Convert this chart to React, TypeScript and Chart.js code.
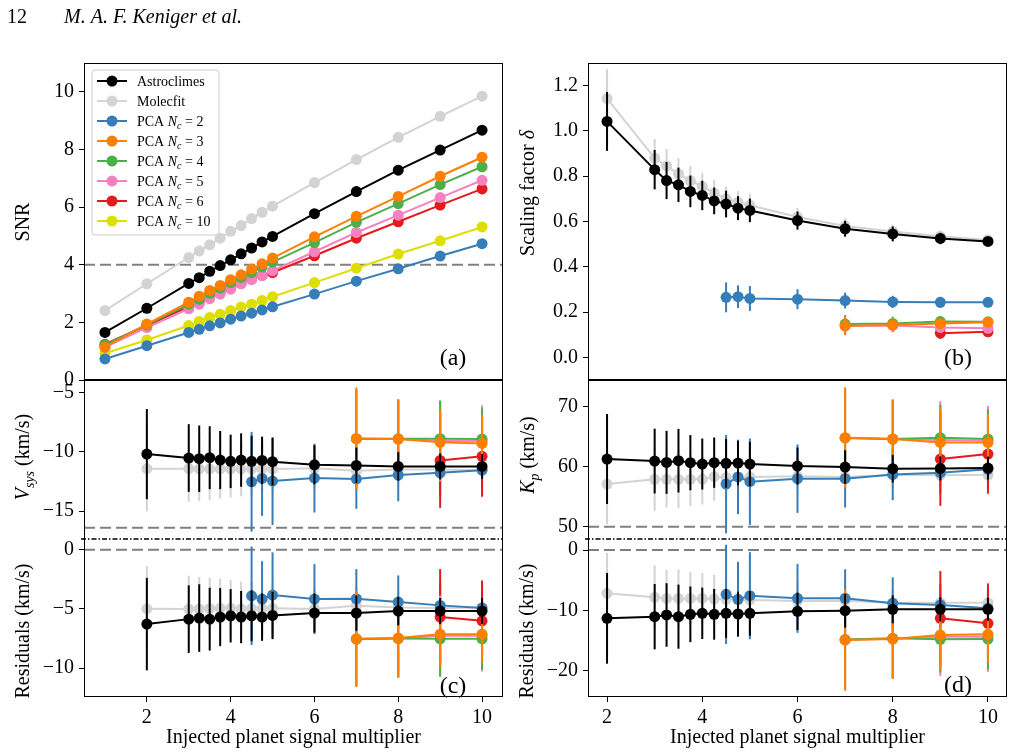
import React, { useEffect, useRef } from "react";
import { Chart, registerables } from "chart.js";
Chart.register(...registerables);

const FONT = "'Liberation Serif', 'DejaVu Serif', 'Times New Roman', serif";
const W = 1014;
const H = 755;

// ---------- colours ----------
const C_BLACK = "#000000";
const C_GRAY = "#d3d3d3";
const C_BLUE = "#377eb8";
const C_ORANGE = "#ff7f00";
const C_GREEN = "#4daf4a";
const C_PINK = "#f781bf";
const C_RED = "#e41a1c";
const C_YELLOW = "#dede00";

// ---------- legend ----------
const legendNames = ["Astroclimes", "Molecfit"];
const legendNc = [2, 3, 4, 5, 6, 10];

// ---------- panel (a): SNR ----------
const xSNR = [1, 2, 3, 3.25, 3.5, 3.75, 4, 4.25, 4.5, 4.75, 5, 6, 7, 8, 9, 10];
const snrAstro = [1.65, 2.49, 3.35, 3.55, 3.77, 3.97, 4.17, 4.38, 4.58, 4.79, 4.98, 5.77, 6.54, 7.28, 7.98, 8.67];
const snrMolec = [2.41, 3.34, 4.25, 4.48, 4.69, 4.92, 5.16, 5.36, 5.6, 5.82, 6.03, 6.85, 7.65, 8.42, 9.15, 9.85];
const snrPCA2 = [0.73, 1.19, 1.65, 1.76, 1.88, 1.98, 2.11, 2.22, 2.32, 2.43, 2.54, 2.98, 3.43, 3.86, 4.3, 4.73];
const snrPCA3 = [1.14, 1.94, 2.7, 2.91, 3.11, 3.28, 3.48, 3.65, 3.85, 4.03, 4.23, 4.97, 5.68, 6.37, 7.07, 7.73];
const snrPCA4 = [1.22, 1.91, 2.63, 2.8, 3.01, 3.19, 3.38, 3.56, 3.73, 3.92, 4.09, 4.77, 5.47, 6.12, 6.78, 7.4];
const snrPCA5 = [1.14, 1.82, 2.47, 2.63, 2.82, 2.98, 3.15, 3.34, 3.48, 3.62, 3.79, 4.45, 5.12, 5.72, 6.33, 6.93];
const snrPCA6 = [1.24, 1.89, 2.55, 2.72, 2.89, 3.05, 3.21, 3.37, 3.51, 3.63, 3.73, 4.31, 4.92, 5.49, 6.07, 6.63];
const snrPCA10 = [0.93, 1.39, 1.89, 2.03, 2.17, 2.28, 2.41, 2.53, 2.63, 2.76, 2.89, 3.38, 3.88, 4.37, 4.83, 5.31];
const snrThreshold = 4;

// ---------- x values for panels (b)-(d) ----------
const xAll = [2, 3, 3.25, 3.5, 3.75, 4, 4.25, 4.5, 4.75, 5, 6, 7, 8, 9, 10];
const xBlue = [4.5, 4.75, 5, 6, 7, 8, 9, 10];
const xHigh = [7, 8, 9, 10];
const xRed = [9, 10];

// ---------- panel (b): scaling factor ----------
const dAstro = [1.042, 0.829, 0.781, 0.762, 0.733, 0.715, 0.691, 0.677, 0.659, 0.649, 0.604, 0.568, 0.545, 0.525, 0.512];
const dAstroErr = [0.13, 0.087, 0.082, 0.076, 0.07, 0.065, 0.059, 0.059, 0.053, 0.052, 0.04, 0.035, 0.033, 0.025, 0.02];
const dMolec = [1.143, 0.88, 0.845, 0.81, 0.78, 0.755, 0.725, 0.7, 0.685, 0.672, 0.62, 0.58, 0.556, 0.535, 0.518];
const dMolecErr = [0.13, 0.085, 0.075, 0.07, 0.065, 0.06, 0.058, 0.055, 0.05, 0.05, 0.04, 0.035, 0.03, 0.025, 0.02];
const dPCA2 = [0.265, 0.268, 0.26, 0.257, 0.251, 0.245, 0.243, 0.243];
const dPCA2Err = [0.066, 0.05, 0.055, 0.044, 0.035, 0.027, 0.024, 0.02];
const dPCA3 = [0.14, 0.143, 0.15, 0.155];
const dPCA3Err = [0.042, 0.03, 0.025, 0.02];
const dPCA4 = [0.147, 0.15, 0.158, 0.157];
const dPCA4Err = [0.04, 0.03, 0.025, 0.02];
const dPCA5 = [0.138, 0.141, 0.132, 0.128];
const dPCA5Err = [0.04, 0.03, 0.025, 0.02];
const dPCA6 = [0.107, 0.113];
const dPCA6Err = [0.025, 0.02];

// ---------- panel (c) top: Vsys ----------
const vAstro = [-10.2, -10.53, -10.59, -10.5, -10.7, -10.81, -10.7, -10.81, -10.73, -10.84, -11.1, -11.15, -11.24, -11.24, -11.24];
const vAstroErr = [3.8, 2.85, 2.8, 2.65, 2.45, 2.25, 2.25, 2.15, 2.0, 2.0, 1.65, 1.5, 1.2, 1.1, 1.05];
const vMolec = [-11.43, -11.43, -11.45, -11.45, -11.45, -11.45, -11.45, -11.45, -11.45, -11.45, -11.4, -11.6, -11.5, -11.5, -11.55];
const vMolecErr = [3.6, 2.8, 2.7, 2.6, 2.5, 2.4, 2.3, 2.2, 2.1, 2.1, 1.8, 1.6, 1.4, 1.2, 1.1];
const vPCA2 = [-12.53, -12.25, -12.47, -12.22, -12.3, -11.97, -11.77, -11.55];
const vPCA2Err = [4.2, 3.15, 3.7, 2.9, 2.5, 2.2, 2.0, 1.7];
const vPCA3 = [-8.88, -8.93, -9.21, -9.3];
const vPCA3Err = [4.3, 3.35, 2.8, 2.4];
const vPCA4 = [-8.9, -8.91, -8.9, -8.93];
const vPCA4Err = [4.1, 3.3, 3.2, 2.6];
const vPCA5 = [-8.92, -8.93, -9.1, -9.1];
const vPCA5Err = [4.2, 3.3, 3.4, 3.0];
const vPCA6 = [-10.73, -10.39];
const vPCA6Err = [4.0, 3.4];
const vRefLine = -16.4;

// ---------- panel (c) bottom: Vsys residuals ----------
const rvAstro = [-6.28, -5.86, -5.77, -5.86, -5.69, -5.58, -5.69, -5.58, -5.69, -5.55, -5.35, -5.35, -5.18, -5.18, -5.18];
const rvAstroErr = [3.9, 2.85, 2.85, 2.65, 2.45, 2.25, 2.2, 2.15, 2.0, 2.0, 1.65, 1.5, 1.2, 1.1, 1.1];
const rvMolec = [-4.99, -5.0, -5.0, -4.97, -4.95, -4.95, -5.0, -4.97, -4.97, -4.95, -5.0, -4.73, -4.87, -4.93, -4.87];
const rvMolecErr = [3.6, 2.8, 2.7, 2.6, 2.5, 2.4, 2.3, 2.2, 2.1, 2.1, 1.8, 1.6, 1.4, 1.2, 1.1];
const rvPCA2 = [-3.89, -4.17, -3.83, -4.17, -4.14, -4.42, -4.7, -4.93];
const rvPCA2Err = [4.15, 3.2, 3.6, 2.95, 2.5, 2.25, 1.9, 1.7];
const rvPCA3 = [-7.52, -7.46, -7.13, -7.13];
const rvPCA3Err = [4.05, 3.3, 2.8, 2.4];
const rvPCA4 = [-7.55, -7.5, -7.52, -7.52];
const rvPCA4Err = [4.0, 3.3, 3.2, 2.6];
const rvPCA5 = [-7.53, -7.48, -7.27, -7.27];
const rvPCA5Err = [4.0, 3.3, 3.4, 3.0];
const rvPCA6 = [-5.69, -6.0];
const rvPCA6Err = [4.05, 3.4];

// ---------- panel (d) top: Kp ----------
const kAstro = [61.28, 60.94, 60.72, 61.0, 60.67, 60.44, 60.67, 60.56, 60.6, 60.44, 60.1, 59.94, 59.67, 59.72, 59.78];
const kAstroErr = [7.5, 5.4, 5.25, 5.3, 4.6, 4.25, 4.2, 4.05, 3.7, 3.7, 3.1, 2.8, 2.3, 2.0, 1.9];
const kMolec = [57.1, 57.9, 57.9, 57.9, 57.9, 57.9, 58.33, 58.2, 58.3, 58.3, 58.4, 58.3, 58.6, 58.6, 58.6];
const kMolecErr = [6.7, 5.3, 4.7, 4.8, 4.4, 4.2, 4.0, 3.8, 3.6, 3.6, 3.0, 2.6, 2.2, 1.8, 1.6];
const kPCA2 = [57.1, 58.3, 57.5, 58.0, 58.0, 58.72, 59.0, 59.56];
const kPCA2Err = [8.2, 6.2, 7.2, 5.7, 4.8, 4.3, 3.5, 3.0];
const kPCA3 = [64.83, 64.6, 64.05, 64.05];
const kPCA3Err = [8.4, 6.6, 5.7, 4.7];
const kPCA4 = [64.8, 64.6, 64.83, 64.6];
const kPCA4Err = [8.0, 6.5, 5.5, 5.0];
const kPCA5 = [64.8, 64.6, 64.44, 64.33];
const kPCA5Err = [8.2, 6.6, 6.5, 5.8];
const kPCA6 = [61.28, 62.1];
const kPCA6Err = [7.8, 6.6];
const kRefLine = 50;

// ---------- panel (d) bottom: Kp residuals ----------
const rkAstro = [-11.29, -11.02, -10.74, -11.02, -10.63, -10.47, -10.63, -10.47, -10.58, -10.47, -10.14, -10.03, -9.81, -9.81, -9.81];
const rkMolec = [-7.16, -7.82, -8.0, -8.0, -8.0, -8.0, -8.1, -8.15, -8.2, -8.26, -8.43, -8.37, -8.7, -8.7, -8.7];
const rkPCA2 = [-7.33, -8.15, -7.55, -7.99, -7.99, -8.82, -9.09, -9.64];
const rkPCA3 = [-14.88, -14.71, -14.05, -13.94];
const rkPCA4 = [-14.8, -14.6, -14.77, -14.71];
const rkPCA5 = [-14.85, -14.65, -14.33, -14.33];
const rkPCA6 = [-11.29, -12.12];
const resRefLine = 0;

// ---------- tick labels ----------
const xTicks = [2, 4, 6, 8, 10];
const yTicksSNR = [0, 2, 4, 6, 8, 10];
const yTicksDelta = [0, 0.2, 0.4, 0.6, 0.8, 1.0, 1.2];
const yTicksVsys = [-15, -10, -5];
const yTicksResV = [-10, -5, 0];
const yTicksKp = [50, 60, 70];
const yTicksResK = [-20, -10, 0];

// ---------- helpers ----------
type Seg = { t: string; it?: boolean; sub?: boolean };

function drawRich(ctx: CanvasRenderingContext2D, segs: Seg[], x: number, y: number, size: number, align: "left" | "center", rot = 0) {
  ctx.save();
  ctx.translate(x, y);
  ctx.rotate(rot);
  const fontOf = (s: Seg) => `${s.it ? "italic " : ""}${s.sub ? Math.round(size * 0.7) : size}px ${FONT}`;
  let total = 0;
  const widths = segs.map((s) => {
    ctx.font = fontOf(s);
    const w = ctx.measureText(s.t).width;
    total += w;
    return w;
  });
  let cx = align === "center" ? -total / 2 : 0;
  const base = size * 0.34;
  ctx.fillStyle = "#000";
  ctx.textAlign = "left";
  ctx.textBaseline = "alphabetic";
  segs.forEach((s, i) => {
    ctx.font = fontOf(s);
    ctx.fillText(s.t, cx, base + (s.sub ? size * 0.25 : 0));
    cx += widths[i];
  });
  ctx.restore();
}

const MARKER_R = 5.5;

function ds(label: string, xs: number[], ys: number[], color: string, order: number, errs?: number[]) {
  return {
    label,
    data: xs.map((x, i) => ({ x, y: ys[i] })),
    borderColor: color,
    backgroundColor: color,
    pointBackgroundColor: color,
    pointBorderColor: color,
    pointRadius: MARKER_R,
    pointBorderWidth: 0,
    borderWidth: 2,
    showLine: true,
    tension: 0,
    order,
    errors: errs,
  };
}

const errorBarPlugin = {
  id: "errbars",
  beforeDatasetDraw(chart: any, args: any) {
    const d = chart.data.datasets[args.index];
    if (!d.errors) return;
    const xs = chart.scales.x;
    const ys = chart.scales.y;
    const ctx: CanvasRenderingContext2D = chart.ctx;
    const a = chart.chartArea;
    ctx.save();
    ctx.beginPath();
    ctx.rect(a.left, a.top, a.right - a.left, a.bottom - a.top);
    ctx.clip();
    ctx.strokeStyle = d.borderColor;
    ctx.lineWidth = 2;
    d.data.forEach((p: any, i: number) => {
      const e = d.errors[i];
      const px = xs.getPixelForValue(p.x);
      ctx.beginPath();
      ctx.moveTo(px, ys.getPixelForValue(p.y - e));
      ctx.lineTo(px, ys.getPixelForValue(p.y + e));
      ctx.stroke();
    });
    ctx.restore();
  },
};

type Panel = {
  id: string;
  area: { left: number; top: number; right: number; bottom: number };
  xMin: number;
  xMax: number;
  yMin: number;
  yMax: number;
  yTicks: number[];
  decimals: number;
  xAxis: boolean;
  sides: { top: boolean; bottom: boolean };
  dashDotTop?: boolean;
  refLine?: number;
  yTitle: Seg[];
  yTitlePos: [number, number];
  tag?: { text: string; x: number; y: number };
  datasets: any[];
  legend?: boolean;
  header?: boolean;
};

const LEFT = { left: 84, right: 503 };
const RIGHT = { left: 588, right: 1007 };
const YW = 60;
const XH = 55;

const pcaSets = (
  xsB: number[], b: number[], be: number[] | undefined,
  xsH: number[], o: number[], oe: number[] | undefined,
  g: number[], ge: number[] | undefined,
  pk: number[], pke: number[] | undefined,
  xsR: number[], r: number[], re: number[] | undefined
) => [
  ds("PCA Nc = 3", xsH, o, C_ORANGE, 1, oe),
  ds("PCA Nc = 4", xsH, g, C_GREEN, 2, ge),
  ds("PCA Nc = 5", xsH, pk, C_PINK, 3, pke),
  ds("PCA Nc = 6", xsR, r, C_RED, 4, re),
  ds("PCA Nc = 2", xsB, b, C_BLUE, 5, be),
];

const PANELS: Panel[] = [
  {
    id: "a",
    area: { left: LEFT.left, top: 63, right: LEFT.right, bottom: 380 },
    xMin: 0.5, xMax: 10.5, yMin: 0, yMax: 11, yTicks: yTicksSNR, decimals: 0,
    xAxis: false, sides: { top: true, bottom: true }, refLine: snrThreshold,
    yTitle: [{ t: "SNR" }], yTitlePos: [22, 222],
    tag: { text: "(a)", x: 453, y: 357 },
    legend: true, header: true,
    datasets: [
      ds("PCA Nc = 3", xSNR, snrPCA3, C_ORANGE, 0),
      ds("PCA Nc = 4", xSNR, snrPCA4, C_GREEN, 1),
      ds("PCA Nc = 5", xSNR, snrPCA5, C_PINK, 2),
      ds("PCA Nc = 6", xSNR, snrPCA6, C_RED, 3),
      ds("PCA Nc = 2", xSNR, snrPCA2, C_BLUE, 4),
      ds("PCA Nc = 10", xSNR, snrPCA10, C_YELLOW, 5),
      ds("Astroclimes", xSNR, snrAstro, C_BLACK, 6),
      ds("Molecfit", xSNR, snrMolec, C_GRAY, 7),
    ],
  },
  {
    id: "b",
    area: { left: RIGHT.left, top: 63, right: RIGHT.right, bottom: 380 },
    xMin: 1.6, xMax: 10.4, yMin: -0.1, yMax: 1.3, yTicks: yTicksDelta, decimals: 1,
    xAxis: false, sides: { top: true, bottom: true },
    yTitle: [{ t: "Scaling factor " }, { t: "δ", it: true }], yTitlePos: [527, 193],
    tag: { text: "(b)", x: 958, y: 357 },
    datasets: [
      ds("Astroclimes", xAll, dAstro, C_BLACK, 0, dAstroErr),
      ...pcaSets(xBlue, dPCA2, dPCA2Err, xHigh, dPCA3, dPCA3Err, dPCA4, dPCA4Err, dPCA5, dPCA5Err, xRed, dPCA6, dPCA6Err),
      ds("Molecfit", xAll, dMolec, C_GRAY, 6, dMolecErr),
    ],
  },
  {
    id: "cU",
    area: { left: LEFT.left, top: 380, right: LEFT.right, bottom: 539 },
    xMin: 0.5, xMax: 10.5, yMin: -17.35, yMax: -3.96, yTicks: yTicksVsys, decimals: 0,
    xAxis: false, sides: { top: true, bottom: false }, refLine: vRefLine,
    yTitle: [{ t: "V", it: true }, { t: "sys", it: true, sub: true }, { t: " (km/s)" }], yTitlePos: [22, 457],
    datasets: [
      ds("Astroclimes", xAll, vAstro, C_BLACK, 0, vAstroErr),
      ...pcaSets(xBlue, vPCA2, vPCA2Err, xHigh, vPCA3, vPCA3Err, vPCA4, vPCA4Err, vPCA5, vPCA5Err, xRed, vPCA6, vPCA6Err),
      ds("Molecfit", xAll, vMolec, C_GRAY, 6, vMolecErr),
    ],
  },
  {
    id: "cL",
    area: { left: LEFT.left, top: 539, right: LEFT.right, bottom: 697 },
    xMin: 0.5, xMax: 10.5, yMin: -12.43, yMax: 0.9, yTicks: yTicksResV, decimals: 0,
    xAxis: true, sides: { top: false, bottom: true }, dashDotTop: true, refLine: resRefLine,
    yTitle: [{ t: "Residuals (km/s)" }], yTitlePos: [22, 631],
    tag: { text: "(c)", x: 453, y: 685 },
    datasets: [
      ds("Astroclimes", xAll, rvAstro, C_BLACK, 0, rvAstroErr),
      ...pcaSets(xBlue, rvPCA2, rvPCA2Err, xHigh, rvPCA3, rvPCA3Err, rvPCA4, rvPCA4Err, rvPCA5, rvPCA5Err, xRed, rvPCA6, rvPCA6Err),
      ds("Molecfit", xAll, rvMolec, C_GRAY, 6, rvMolecErr),
    ],
  },
  {
    id: "dU",
    area: { left: RIGHT.left, top: 380, right: RIGHT.right, bottom: 539 },
    xMin: 1.6, xMax: 10.4, yMin: 47.95, yMax: 74.45, yTicks: yTicksKp, decimals: 0,
    xAxis: false, sides: { top: true, bottom: false }, refLine: kRefLine,
    yTitle: [{ t: "K", it: true }, { t: "p", it: true, sub: true }, { t: " (km/s)" }], yTitlePos: [527, 455],
    datasets: [
      ds("Astroclimes", xAll, kAstro, C_BLACK, 0, kAstroErr),
      ...pcaSets(xBlue, kPCA2, kPCA2Err, xHigh, kPCA3, kPCA3Err, kPCA4, kPCA4Err, kPCA5, kPCA5Err, xRed, kPCA6, kPCA6Err),
      ds("Molecfit", xAll, kMolec, C_GRAY, 6, kMolecErr),
    ],
  },
  {
    id: "dL",
    area: { left: RIGHT.left, top: 539, right: RIGHT.right, bottom: 697 },
    xMin: 1.6, xMax: 10.4, yMin: -24.3, yMax: 1.82, yTicks: yTicksResK, decimals: 0,
    xAxis: true, sides: { top: false, bottom: true }, dashDotTop: true, refLine: resRefLine,
    yTitle: [{ t: "Residuals (km/s)" }], yTitlePos: [526, 631],
    tag: { text: "(d)", x: 958, y: 684 },
    datasets: [
      ds("Astroclimes", xAll, rkAstro, C_BLACK, 0, kAstroErr),
      ...pcaSets(xBlue, rkPCA2, kPCA2Err, xHigh, rkPCA3, kPCA3Err, rkPCA4, kPCA4Err, rkPCA5, kPCA5Err, xRed, rkPCA6, kPCA6Err),
      ds("Molecfit", xAll, rkMolec, C_GRAY, 6, kMolecErr),
    ],
  },
];

function fmtTick(v: number, decimals: number) {
  const s = Number(v).toFixed(decimals);
  return s.replace("-", "\u2212");
}

function decoPlugin(p: Panel) {
  return {
    id: "deco_" + p.id,
    beforeDatasetsDraw(chart: any) {
      if (p.refLine === undefined) return;
      const ctx: CanvasRenderingContext2D = chart.ctx;
      const a = chart.chartArea;
      const py = chart.scales.y.getPixelForValue(p.refLine);
      ctx.save();
      ctx.strokeStyle = "#808080";
      ctx.lineWidth = 2;
      ctx.setLineDash([11, 5]);
      ctx.beginPath();
      ctx.moveTo(a.left, py);
      ctx.lineTo(a.right, py);
      ctx.stroke();
      ctx.restore();
    },
    afterDraw(chart: any) {
      const ctx: CanvasRenderingContext2D = chart.ctx;
      const a = chart.chartArea;
      ctx.save();
      // frame
      ctx.strokeStyle = "#000";
      ctx.lineWidth = 1;
      ctx.setLineDash([]);
      ctx.beginPath();
      ctx.moveTo(a.left + 0.5, a.top);
      ctx.lineTo(a.left + 0.5, a.bottom);
      ctx.moveTo(a.right - 0.5, a.top);
      ctx.lineTo(a.right - 0.5, a.bottom);
      if (p.sides.top) {
        ctx.moveTo(a.left, a.top + 0.5);
        ctx.lineTo(a.right, a.top + 0.5);
      }
      if (p.sides.bottom) {
        ctx.moveTo(a.left, a.bottom - 0.5);
        ctx.lineTo(a.right, a.bottom - 0.5);
      }
      ctx.stroke();
      if (p.dashDotTop) {
        ctx.lineWidth = 1.5;
        ctx.setLineDash([5, 2, 1.5, 2]);
        ctx.beginPath();
        ctx.moveTo(a.left - 3, a.top);
        ctx.lineTo(a.right, a.top);
        ctx.stroke();
        ctx.setLineDash([]);
      }
      ctx.restore();

      // y title
      drawRich(ctx, p.yTitle, p.yTitlePos[0], p.yTitlePos[1], 20, "center", -Math.PI / 2);
      // panel tag
      if (p.tag) drawRich(ctx, [{ t: p.tag.text }], p.tag.x, p.tag.y, 24, "center");

      if (p.header) {
        ctx.save();
        ctx.fillStyle = "#000";
        ctx.textBaseline = "alphabetic";
        ctx.textAlign = "left";
        ctx.font = `20px ${FONT}`;
        ctx.fillText("12", 7, 23);
        ctx.font = `italic 20px ${FONT}`;
        ctx.fillText("M. A. F. Keniger et al.", 64, 23);
        ctx.restore();
      }

      if (p.legend) {
        ctx.save();
        const bx = 92, by = 70, bw = 127, bh = 165, r = 3;
        ctx.fillStyle = "rgba(255,255,255,0.85)";
        ctx.strokeStyle = "#cccccc";
        ctx.lineWidth = 1;
        ctx.beginPath();
        ctx.moveTo(bx + r, by);
        ctx.lineTo(bx + bw - r, by);
        ctx.arcTo(bx + bw, by, bx + bw, by + r, r);
        ctx.lineTo(bx + bw, by + bh - r);
        ctx.arcTo(bx + bw, by + bh, bx + bw - r, by + bh, r);
        ctx.lineTo(bx + r, by + bh);
        ctx.arcTo(bx, by + bh, bx, by + bh - r, r);
        ctx.lineTo(bx, by + r);
        ctx.arcTo(bx, by, bx + r, by, r);
        ctx.closePath();
        ctx.fill();
        ctx.stroke();
        const colors = [C_BLACK, C_GRAY, C_BLUE, C_ORANGE, C_GREEN, C_PINK, C_RED, C_YELLOW];
        const labels: Seg[][] = [
          ...legendNames.map((n) => [{ t: n }]),
          ...legendNc.map((n) => [{ t: "PCA " }, { t: "N", it: true }, { t: "c", it: true, sub: true }, { t: " = " + n }]),
        ];
        labels.forEach((segs, i) => {
          const cy = 81 + 20 * i;
          ctx.strokeStyle = colors[i];
          ctx.fillStyle = colors[i];
          ctx.lineWidth = 2;
          ctx.beginPath();
          ctx.moveTo(97, cy);
          ctx.lineTo(127, cy);
          ctx.stroke();
          ctx.beginPath();
          ctx.arc(112, cy, MARKER_R, 0, Math.PI * 2);
          ctx.fill();
          drawRich(ctx, segs, 137, cy, 14, "left");
        });
        ctx.restore();
      }
    },
  };
}

function buildConfig(p: Panel): any {
  const font = { family: FONT, size: 20 };
  const gridOpts = {
    display: true,
    drawOnChartArea: false,
    drawTicks: true,
    tickLength: 5,
    tickWidth: 1,
    tickColor: "#000",
    color: "#000",
  };
  return {
    type: "line",
    data: { datasets: p.datasets },
    options: {
      responsive: false,
      animation: false,
      devicePixelRatio: 1,
      events: [],
      layout: {
        padding: {
          left: p.area.left - YW,
          top: p.area.top,
          right: W - p.area.right,
          bottom: H - p.area.bottom - (p.xAxis ? XH : 0),
        },
      },
      plugins: { legend: { display: false }, tooltip: { enabled: false } },
      scales: {
        x: {
          type: "linear",
          min: p.xMin,
          max: p.xMax,
          display: p.xAxis,
          afterFit: (s: any) => {
            s.height = p.xAxis ? XH : 0;
          },
          afterBuildTicks: (s: any) => {
            s.ticks = xTicks.map((v) => ({ value: v }));
          },
          grid: gridOpts,
          border: { display: false },
          ticks: {
            font,
            color: "#000",
            padding: 4,
            maxRotation: 0,
            autoSkip: false,
            callback: (v: any) => fmtTick(v, 0),
          },
          title: {
            display: true,
            text: "Injected planet signal multiplier",
            font,
            color: "#000",
            padding: { top: 0, bottom: 2 },
          },
        },
        y: {
          type: "linear",
          min: p.yMin,
          max: p.yMax,
          afterFit: (s: any) => {
            s.width = YW;
          },
          afterBuildTicks: (s: any) => {
            s.ticks = p.yTicks.map((v) => ({ value: v }));
          },
          grid: gridOpts,
          border: { display: false },
          ticks: {
            font,
            color: "#000",
            padding: 5,
            autoSkip: false,
            callback: (v: any) => fmtTick(v, p.decimals),
          },
        },
      },
    },
    plugins: [errorBarPlugin, decoPlugin(p)],
  };
}

export default function App() {
  const refs = useRef<(HTMLCanvasElement | null)[]>([]);
  useEffect(() => {
    const charts = PANELS.map((p, i) => new Chart(refs.current[i] as HTMLCanvasElement, buildConfig(p)));
    return () => charts.forEach((c) => c.destroy());
  }, []);
  return (
    <div style={{ position: "absolute", left: 0, top: 0, width: W, height: H, overflow: "hidden", background: "#fff" }}>
      {PANELS.map((p, i) => (
        <canvas
          key={p.id}
          ref={(el) => {
            refs.current[i] = el;
          }}
          width={W}
          height={H}
          style={{ position: "absolute", left: 0, top: 0, width: W, height: H }}
        />
      ))}
    </div>
  );
}
